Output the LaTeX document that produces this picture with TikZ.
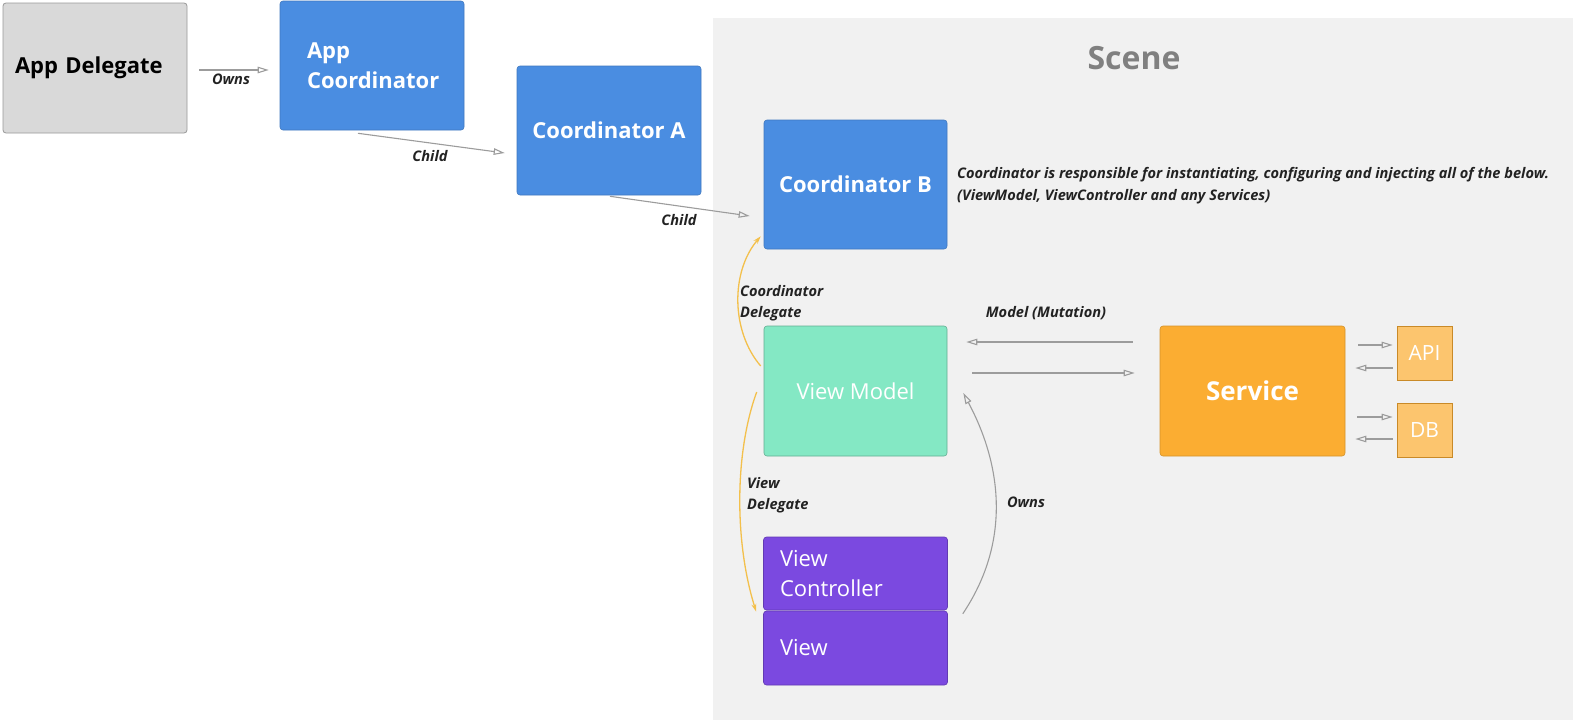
\documentclass[tikz,border=0pt]{standalone}
\usepackage{fontspec}
\setmainfont{Open Sans}
\usetikzlibrary{arrows.meta}
\definecolor{scenebg}{HTML}{F1F1F1}
\definecolor{greybox}{HTML}{D9D9D9}
\definecolor{coordblue}{HTML}{4A8DE1}
\definecolor{mint}{HTML}{84E8C4}
\definecolor{srvorange}{HTML}{FBAD32}
\definecolor{storeorange}{HTML}{FCC56E}
\definecolor{vcpurple}{HTML}{7B49E0}
\definecolor{linegrey}{HTML}{9C9C9C}
\definecolor{dlgyellow}{HTML}{F3C04C}
\definecolor{labeltext}{HTML}{222222}

\begin{document}
\begin{tikzpicture}[x=1pt,y=-1pt,
  box/.style={rounded corners=3pt, minimum width=184pt, minimum height=130pt, inner sep=0pt,
    font=\fontsize{22}{30}\selectfont\bfseries, text=white},
  blue/.style={box, fill=coordblue, draw=coordblue!85!black, line width=0.6pt},
  store/.style={minimum width=55pt, minimum height=54pt, inner sep=0pt, fill=storeorange,
    draw=srvorange!80!black, line width=0.6pt, text=white, font=\fontsize{21}{24}\selectfont},
  purple/.style={box, fill=vcpurple, draw=vcpurple!80!black, line width=0.6pt,
    font=\fontsize{22}{30}\selectfont, align=left, text width=151pt},
  arr/.style={draw=linegrey, line width=1.1pt, -{Triangle[open, length=11pt, width=6.5pt]}},
  dlg/.style={draw=dlgyellow, line width=1.3pt, -{Stealth[length=8pt, width=5pt]}},
  lbl/.style={text=labeltext, font=\fontsize{14.6}{21}\selectfont\bfseries\itshape, inner sep=0pt}]

  \useasboundingbox (0,0) rectangle (1573,720);
  \fill[white] (0,0) rectangle (1573,720);
  \fill[scenebg] (713,18) rectangle (1573,720);
  \node[text=gray, font=\fontsize{32}{36}\selectfont\bfseries] (scene) at (1134,58) {Scene};

  \node[box, fill=greybox, draw=gray!80, line width=0.8pt, text=black, align=left, text width=160pt] (ad) at (95,68) {App Delegate};
  \node[blue, align=left, text width=130pt, minimum height=129pt] (ac) at (372,65.5) {App\\Coordinator};
  \node[blue, minimum height=129pt] (ca) at (609,130.5) {Coordinator A};
  \node[blue, minimum width=183pt, minimum height=129pt] (cb) at (855.5,184.5) {Coordinator B};
  \node[box, minimum width=183pt, fill=mint, draw=mint!75!black, line width=0.6pt,
    font=\fontsize{22}{30}\selectfont] (vm) at (855.5,391) {View Model};
  \node[box, minimum width=185pt, fill=srvorange, draw=srvorange!85!black, line width=0.6pt,
    font=\fontsize{26}{30}\selectfont\bfseries] (sv) at (1252.5,391) {Service};
  \node[store] (api) at (1424.5,353) {API};
  \node[store] (db) at (1424.5,430) {DB};
  \node[purple, minimum height=73pt] (vc) at (855.5,573.5) {View\\Controller};
  \node[purple, minimum height=74pt] (v) at (855.5,648) {View};

  \node[lbl, anchor=west, align=left, font=\fontsize{14.6}{22}\selectfont\bfseries\itshape] (note) at (957,186)
    {Coordinator is responsible for instantiating, configuring and injecting all of the below.\\(ViewModel, ViewController and any Services)};

  \draw[arr, shorten <=12pt, shorten >=11pt] ([yshift=-2pt]ad.east) -- ([yshift=-2pt]ad.east -| ac.west);
  \node[lbl] at (231,79) {Owns};
  \draw[arr] ([xshift=-14pt, yshift=-3pt]ac.south) -- ([xshift=-12pt, yshift=-22.5pt]ca.west);
  \node[lbl] at (430,156) {Child};
  \draw[arr] ([xshift=1pt, yshift=-1pt]ca.south) -- ([xshift=-14pt, yshift=-31.5pt]cb.west);
  \node[lbl] at (679,220) {Child};

  \draw[arr, shorten <=27pt, shorten >=19pt] ([yshift=49pt]sv.west) -- ([yshift=49pt]vm.east);
  \draw[arr, shorten <=25pt, shorten >=25pt] ([yshift=18pt]vm.east) -- ([yshift=18pt]sv.west);
  \node[lbl] at (1046,313) {Model (Mutation)};

  \draw[arr, shorten <=13pt, shorten >=4pt] ([yshift=8pt]api.west -| sv.east) -- ([yshift=8pt]api.west);
  \draw[arr, shorten <=4pt, shorten >=10pt] ([yshift=-15pt]api.west) -- ([yshift=-15pt]api.west -| sv.east);
  \draw[arr, shorten <=12pt, shorten >=4pt] ([yshift=13pt]db.west -| sv.east) -- ([yshift=13pt]db.west);
  \draw[arr, shorten <=4pt, shorten >=10pt] ([yshift=-9pt]db.west) -- ([yshift=-9pt]db.west -| sv.east);

  \draw[dlg] ([xshift=-3pt, yshift=25pt]vm.west) .. controls +(-30,-35) and +(-30,35) .. ([xshift=-3pt, yshift=13pt]cb.south west);
  \node[lbl, anchor=west, align=left] at (740,303) {Coordinator\\Delegate};
  \draw[dlg] ([xshift=-7pt, yshift=-1pt]vm.west) .. controls +(-22,60) and +(-22,-70) .. ([xshift=-7pt, yshift=-1pt]v.north west);
  \node[lbl, anchor=west, align=left] at (747,495) {View\\Delegate};

  \draw[draw=linegrey, line width=1.1pt, -{Triangle[open, length=11pt, width=6.5pt]}]
    ([xshift=15pt, yshift=-3pt]v.north east) .. controls +(47,-70) and +(40,75) .. ([xshift=16pt, yshift=-2pt]vm.east);
  \node[lbl] at (1026,502) {Owns};
\end{tikzpicture}
\end{document}
